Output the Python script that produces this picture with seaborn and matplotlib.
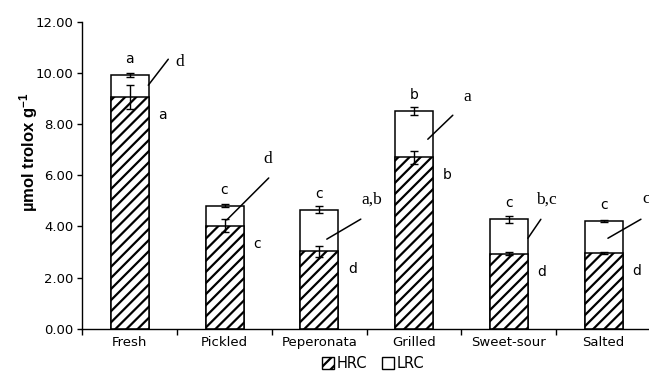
import numpy as np
import pandas as pd
import matplotlib
matplotlib.use("Agg")
import matplotlib.pyplot as plt
import seaborn as sns
from matplotlib.patches import Patch

sns.set_style("ticks")
plt.rcParams["font.family"] = ["DejaVu Sans"]
plt.rcParams["hatch.linewidth"] = 1.6
plt.rcParams["mathtext.default"] = "regular"
for key in ["text.color", "axes.labelcolor", "xtick.color", "ytick.color"]:
    plt.rcParams[key] = "black"

# values
categories = ["Fresh", "Pickled", "Peperonata", "Grilled", "Sweet-sour", "Salted"]
hrc = [9.05, 4.03, 3.03, 6.70, 2.93, 2.96]
total = [9.92, 4.81, 4.65, 8.50, 4.27, 4.21]
hrc_err = [0.47, 0.24, 0.21, 0.26, 0.05, 0.04]
total_err = [0.08, 0.07, 0.14, 0.16, 0.13, 0.03]
total_letters = ["a", "c", "c", "b", "c", "c"]
hrc_letters = ["a", "c", "d", "b", "d", "d"]
lrc_letters = ["d", "d", "a,b", "a", "b,c", "c"]

df = pd.DataFrame({"cat": categories, "hrc": hrc, "total": total})

fig = plt.figure(figsize=(6.49, 3.74), dpi=100)
ax = fig.add_axes([0.127, 0.121, 0.876, 0.8215])

# total bar (white = LRC part) underneath, HRC hatched on top
sns.barplot(data=df, x="cat", y="total", color="white", edgecolor="black",
            linewidth=1.1, width=0.4, ax=ax)
sns.barplot(data=df, x="cat", y="hrc", color="white", edgecolor="black",
            linewidth=1.1, width=0.4, hatch="///", ax=ax)

x = np.arange(len(categories))
ax.errorbar(x, total, yerr=total_err, fmt="none", ecolor="black",
            elinewidth=1, capsize=3, capthick=1)
ax.errorbar(x, hrc, yerr=hrc_err, fmt="none", ecolor="black",
            elinewidth=1, capsize=3, capthick=1)

# letters above the bars and beside the HRC part
for i in range(len(categories)):
    ax.annotate(total_letters[i], (x[i], total[i]), xytext=(0, 16),
                textcoords="offset pixels", ha="center", va="center", fontsize=10)
    ax.annotate(hrc_letters[i], (x[i], hrc[i]), xytext=(33, -18),
                textcoords="offset pixels", ha="center", va="center", fontsize=10)

# leader lines for the LRC letters
lead_dx = [0.195, 0.023, 0.079, 0.145, 0.201, 0.046]
lead_frac = [0.53, 0.28, 0.29, 0.39, 0.45, 0.46]
lead_end = [(20, 26), (42, 42), (34, 20), (25, 24), (13, 19), (33, 19)]
lead_txt = [(31, 23), (41, 61), (45, 39), (39, 42), (18, 39), (38, 39)]
for i in range(len(categories)):
    sx = x[i] + lead_dx[i]
    sy = hrc[i] + lead_frac[i] * (total[i] - hrc[i])
    ax.annotate("", (sx, sy), xytext=lead_end[i], textcoords="offset pixels",
                arrowprops=dict(arrowstyle="-", color="black", lw=1.1,
                                shrinkA=0, shrinkB=0))
    ax.annotate(lrc_letters[i], (sx, sy), xytext=lead_txt[i],
                textcoords="offset pixels", ha="center", va="center",
                fontsize=12.5, family="Liberation Serif", annotation_clip=False)

ax.set_xlim(-0.5, len(categories) - 0.5)
ax.set_ylim(0, 12)
ax.set_yticks(np.arange(0, 12.1, 2))
ax.set_yticklabels([f"{v:.2f}" for v in np.arange(0, 12.1, 2)])
ax.set_xticks(np.arange(-0.5, len(categories), 1), minor=True)
ax.tick_params(axis="x", which="major", length=0, pad=5, labelsize=9.5)
ax.tick_params(axis="x", which="minor", length=4, width=1, color="black")
ax.tick_params(axis="y", length=3.5, width=1, pad=3, labelsize=9.5, color="black")
ax.set_xlabel("")
ax.set_ylabel("µmol trolox g$^{-1}$", fontsize=12, fontweight="bold",
              family="Liberation Sans")
ax.yaxis.set_label_coords(-0.075, 0.574)
sns.despine(ax=ax)
for s in ["left", "bottom"]:
    ax.spines[s].set_color("black")
    ax.spines[s].set_linewidth(1)

handles = [Patch(facecolor="white", edgecolor="black", hatch="///", label="HRC"),
           Patch(facecolor="white", edgecolor="black", label="LRC")]
fig.legend(handles=handles, loc="center", bbox_to_anchor=(0.575, 0.028), ncol=2,
           frameon=False, fontsize=10.5, handlelength=0.8, handleheight=0.8,
           handletextpad=0.2, columnspacing=1.0)

fig.savefig("out.png", dpi=100)
